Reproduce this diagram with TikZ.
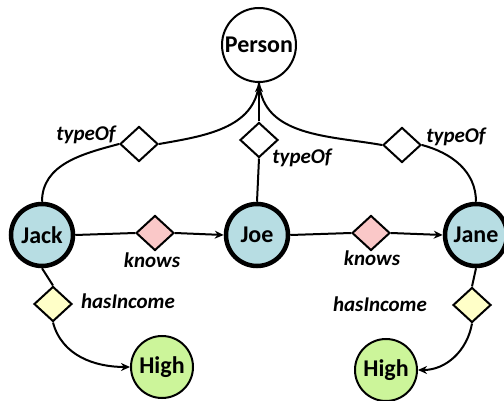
\documentclass[tikz,border=0pt]{standalone}
\usepackage{fontspec}
\setmainfont{Carlito}
\usetikzlibrary{shapes.geometric,arrows.meta}
\definecolor{nblue}{RGB}{183,221,227}
\definecolor{npink}{RGB}{250,200,200}
\definecolor{nyellow}{RGB}{255,255,200}
\definecolor{ngreen}{RGB}{204,245,154}
\tikzset{
  cls/.style={circle,draw,line width=2pt,fill=white,minimum size=74pt,inner sep=0pt,font=\fontsize{24}{24}\selectfont\bfseries},
  inst/.style={circle,draw,line width=4.5pt,fill=nblue,minimum size=62pt,inner sep=0pt,font=\fontsize{24}{24}\selectfont\bfseries},
  lit/.style={circle,draw,line width=2pt,fill=ngreen,minimum size=62pt,inner sep=0pt,font=\fontsize{24}{24}\selectfont\bfseries},
  dmd/.style={diamond,draw,line width=2pt,minimum width=38pt,minimum height=35pt,inner sep=0pt},
  lbl/.style={font=\fontsize{21}{21}\selectfont\bfseries\itshape,inner sep=0pt},
  edge/.style={line width=2pt},
  arr/.style={edge,-{Stealth[length=9pt,width=8pt]}}
}
\begin{document}
\begin{tikzpicture}[x=1pt,y=-1pt]
\clip (0,0) rectangle (504,401);
\useasboundingbox (0,0) rectangle (504,401);
\node[cls] (person) at (259,45) {Person};
\node[inst] (jack) at (42,235) {Jack};
\node[inst] (joe) at (257,235) {Joe};
\node[inst] (jane) at (476,235) {Jane};
\node[lit] (high1) at (162,367) {High};
\node[lit] (high2) at (386,370) {High};
\node[dmd,fill=white] (t1) at (139,144) {};
\node[dmd,fill=white] (t2) at (259,140) {};
\node[dmd,fill=white] (t3) at (402,145) {};
\node[dmd,fill=npink] (k1) at (155,233) {};
\node[dmd,fill=npink] (k2) at (371,233) {};
\node[dmd,fill=nyellow] (h1) at (53,304) {};
\node[dmd,fill=nyellow] (h2) at (472,305) {};
\node[lbl] (lt1) at (86,135) {typeOf};
\node[lbl] (lt2) at (302,158) {typeOf};
\node[lbl] (lt3) at (456,137) {typeOf};
\node[lbl] (lk1) at (152,260) {knows};
\node[lbl] (lk2) at (372,258) {knows};
\node[lbl] (lh1) at (128,301) {hasIncome};
\node[lbl] (lh2) at (380,304) {hasIncome};
% typeOf edges
\draw[edge] (jack.north) to[out=90,in=195] (t1.west);
\draw[edge] (t1.east) to[out=10,in=-95] (person.south);
\draw[edge] (joe.north) -- (t2.south);
\draw[arr] (t2.north) -- (person.south);
\draw[edge] (jane.north) to[out=90,in=-15] (t3.east);
\draw[edge] (t3.west) to[out=170,in=-85] (person.south);
% knows
\draw[edge] (jack.east) -- (k1.west);
\draw[arr] (k1.east) -- (joe.west);
\draw[edge] (joe.east) -- (k2.west);
\draw[arr] (k2.east) -- (jane.west);
% hasIncome
\draw[edge] (jack.south) -- (h1.north);
\draw[arr] (h1.south) to[out=-75,in=180] (high1.west);
\draw[edge] (jane.south) -- (h2.north);
\draw[arr] (h2.south) to[out=-100,in=0] (high2.east);
\end{tikzpicture}
\end{document}
